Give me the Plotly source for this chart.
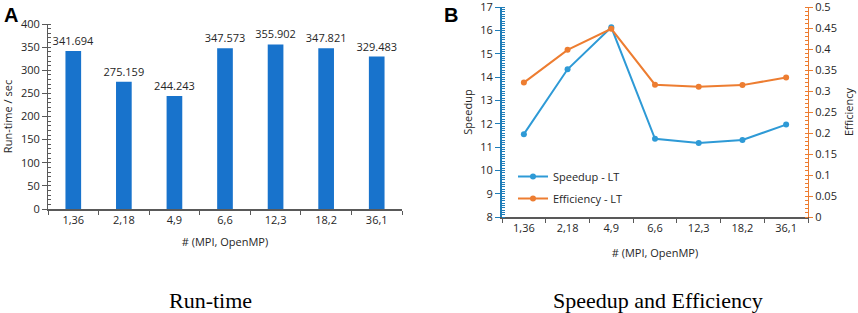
import plotly.graph_objects as go

categories = ["1,36", "2,18", "4,9", "6,6", "12,3", "18,2", "36,1"]
runtime = [341.694, 275.159, 244.243, 347.573, 355.902, 347.821, 329.483]
speedup = [11.55, 14.33, 16.13, 11.35, 11.17, 11.30, 11.96]
efficiency = [0.320, 0.398, 0.448, 0.315, 0.310, 0.314, 0.332]
runtime_labels = [f"{v:.3f}" for v in runtime]

W, H = 858, 313
def px(x): return x / W
def py(y): return (H - y) / H

FONT = "Open Sans"
TXT = "#262626"
BAR = "#1873CC"
LBLUE = "#2E9AD6"
ORANGE = "#ED7D31"
LAXIS = "#1F7DB8"

fig = go.Figure()

fig.add_trace(go.Bar(
    x=categories, y=runtime, text=runtime_labels, textposition="outside",
    textfont=dict(family=FONT, size=11, color=TXT), cliponaxis=False,
    constraintext="none",
    marker=dict(color=BAR, line=dict(width=0)), width=0.31,
    xaxis="x", yaxis="y", showlegend=False,
))

fig.add_trace(go.Scatter(
    x=categories, y=speedup, mode="lines+markers", name="Speedup - LT",
    line=dict(color=LBLUE, width=2), marker=dict(size=6, color=LBLUE),
    xaxis="x2", yaxis="y2", legendgroup="a",
))
fig.add_trace(go.Scatter(
    x=categories, y=efficiency, mode="lines+markers", name="Efficiency - LT",
    line=dict(color=ORANGE, width=2), marker=dict(size=6, color=ORANGE),
    xaxis="x2", yaxis="y3", legendgroup="b",
))

tickfont = dict(family=FONT, size=11, color=TXT)
titlefont = dict(family=FONT, size=11, color=TXT)

fig.update_layout(
    width=W, height=H, margin=dict(l=0, r=0, t=0, b=0),
    paper_bgcolor="white", plot_bgcolor="white",
    font=dict(family=FONT, size=11, color=TXT),
    xaxis=dict(domain=[px(48), px(402)], type="category", range=[-0.5, 6.5],
               showline=True, linecolor="#595959", linewidth=1.5,
               ticks="outside", tickson="boundaries", ticklen=4, tickcolor="#595959",
               tickfont=tickfont, showgrid=False, anchor="y", automargin=False,
               ticklabeloverflow="allow",
               title=dict(text="# (MPI, OpenMP)", font=titlefont, standoff=12)),
    yaxis=dict(domain=[py(209), py(24)], range=[0, 400], dtick=50,
               showline=True, linecolor="#595959", linewidth=1,
               ticks="outside", ticklen=5, tickcolor="#595959",
               minor=dict(dtick=10, ticks="inside", ticklen=3, tickcolor="#595959"),
               tickfont=tickfont, showgrid=False, zeroline=False, anchor="x",
               automargin=False, ticklabeloverflow="allow",
               title=dict(text="Run-time / sec", font=titlefont, standoff=6)),
    xaxis2=dict(domain=[px(502), px(808)], type="category", range=[-0.5, 6.5],
                showline=True, linecolor="#595959", linewidth=2,
                ticks="outside", tickson="boundaries", ticklen=4, tickcolor="#595959",
                tickfont=tickfont, showgrid=False, anchor="y2", automargin=False,
                ticklabeloverflow="allow",
                title=dict(text="# (MPI, OpenMP)", font=titlefont, standoff=15)),
    yaxis2=dict(domain=[py(217), py(7)], range=[8, 17], dtick=1,
                showline=True, linecolor=LAXIS, linewidth=2,
                ticks="outside", ticklen=5, tickcolor=LAXIS,
                minor=dict(dtick=0.1, ticks="inside", ticklen=3, tickcolor=LAXIS),
                tickfont=tickfont, showgrid=False, zeroline=False, anchor="x2",
                automargin=False, ticklabeloverflow="allow",
                title=dict(text="Speedup", font=titlefont, standoff=5)),
    yaxis3=dict(domain=[py(217), py(7)], range=[0, 0.5], dtick=0.05,
                overlaying="y2", side="right", anchor="x2",
                showline=True, linecolor=ORANGE, linewidth=1,
                ticks="outside", ticklen=4, tickcolor=ORANGE,
                minor=dict(dtick=0.01, ticks="inside", ticklen=3, tickcolor=ORANGE),
                tickfont=tickfont, showgrid=False, zeroline=False, automargin=False,
                ticklabeloverflow="allow",
                title=dict(text="Efficiency", font=titlefont, standoff=9)),
    legend=dict(x=px(513), y=py(162), xanchor="left", yanchor="top",
                bgcolor="rgba(0,0,0,0)", font=dict(family=FONT, size=11, color=TXT),
                tracegroupgap=3, itemwidth=30),
    bargap=0.69,
)

annots = [
    dict(text="<b>A</b>", x=px(2), y=py(2), xanchor="left", yanchor="top",
         font=dict(family="Liberation Sans", size=20, color="black")),
    dict(text="<b>B</b>", x=px(442), y=py(2), xanchor="left", yanchor="top",
         font=dict(family="Liberation Sans", size=20, color="black")),
    dict(text="Run-time", x=px(210), y=py(300), xanchor="center", yanchor="middle",
         font=dict(family="Liberation Serif", size=22, color="black")),
    dict(text="Speedup and Efficiency", x=px(658), y=py(300), xanchor="center", yanchor="middle",
         font=dict(family="Liberation Serif", size=22, color="black")),
]
for a in annots:
    a.update(xref="paper", yref="paper", showarrow=False)
fig.update_layout(annotations=annots)

fig.write_html(
    "out.html",
    config={"displayModeBar": False},
    post_script="document.body.style.margin='0';document.body.style.overflow='hidden';",
)
